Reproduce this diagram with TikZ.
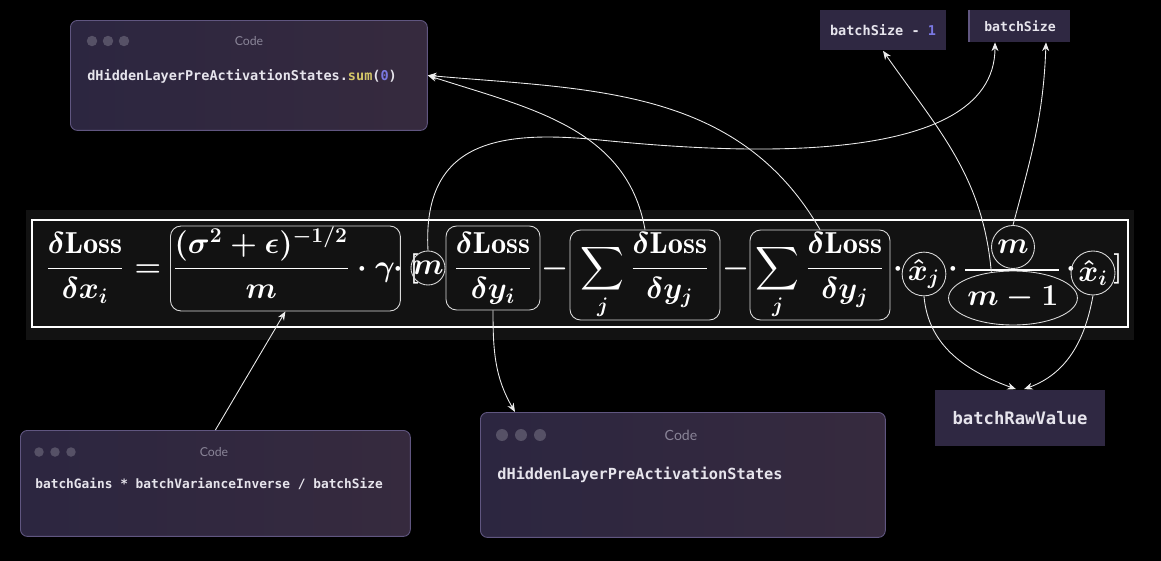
\documentclass[tikz,border=0pt]{standalone}
\usepackage{amsmath,amssymb}
\usepackage{xcolor}
\usepackage{fontspec}
\setmonofont{DejaVu Sans Mono}
\newfontfamily\uifont{Lato}
\usetikzlibrary{arrows.meta,positioning,shapes.geometric}
\definecolor{winA}{RGB}{44,38,64}
\definecolor{winB}{RGB}{54,42,62}
\definecolor{winedge}{RGB}{96,86,128}
\definecolor{varfill}{RGB}{47,40,66}
\definecolor{dotgray}{RGB}{86,81,102}
\definecolor{labelgray}{RGB}{138,133,152}
\definecolor{codewhite}{RGB}{230,228,236}
\definecolor{codeyellow}{RGB}{212,198,104}
\definecolor{codeblue}{RGB}{122,120,226}
\definecolor{eqback}{RGB}{18,18,18}
\tikzset{
  codewin/.style={draw=winedge, left color=winA, right color=winB, rounded corners=4pt, line width=0.5pt, anchor=north west},
  winlabel/.style={font=\uifont\fontsize{7}{8}\selectfont, text=labelgray, inner sep=0pt},
  codetext/.style={text=codewhite, anchor=west, inner sep=0pt},
  varbox/.style={fill=varfill, text=codewhite, inner sep=0pt},
  eqpart/.style={text=white, font=\LARGE\boldmath, inner sep=0pt, anchor=base},
  termbox/.style={eqpart, draw=white!85!black, rounded corners=6pt, line width=0.5pt},
  termring/.style={eqpart, draw=white!85!black, circle, line width=0.5pt, anchor=center},
  flow/.style={-{Stealth[length=5pt,width=4pt]}, white!92!black, line width=0.5pt}
}

\begin{document}
\begin{tikzpicture}[x=0.02cm, y=-0.02cm]
  % background and equation panel
  \fill[black] (0,0) rectangle (1161,561);
  \fill[eqback] (26,210) rectangle (1134,340);
  \draw[white, line width=1.2pt] (32,220) rectangle (1128,327);

  % equation terms
  \node[eqpart] (lhs) at (85,276) {$\dfrac{\delta\mathrm{Loss}}{\delta x_i}$};
  \node[eqpart] (eqsign) at (148,276) {$=$};
  \node[termbox, anchor=base west, text width=4.52cm, align=left, inner xsep=0.04cm, text height=1cm, text depth=0.7cm] (box1) at (170,276) {$\dfrac{(\sigma^2+\epsilon)^{-1/2}}{m}\cdot\gamma$};
  \node[eqpart] (dotA) at (398,276) {$\cdot$};
  \node[eqpart] (lbrack) at (414,276) {$[$};
  \node[termring, minimum size=0.68cm] (mcirc) at (428,268) {$m$};
  \node[termbox, minimum width=1.88cm, text height=1cm, text depth=0.68cm] (box2) at (493,276) {$\dfrac{\delta\mathrm{Loss}}{\delta y_i}$};
  \node[eqpart] (minusA) at (555,276) {$-$};
  \node[termbox, minimum width=3cm, text height=0.92cm, text depth=0.88cm] (box3) at (645,276) {$\displaystyle\sum_j\dfrac{\delta\mathrm{Loss}}{\delta y_j}$};
  \node[eqpart] (minusB) at (736,276) {$-$};
  \node[termbox, minimum width=2.8cm, text height=0.92cm, text depth=0.88cm] (box4) at (820,276) {$\displaystyle\sum_j\dfrac{\delta\mathrm{Loss}}{\delta y_j}$};
  \node[eqpart] (dotB) at (898,276) {$\cdot$};
  \node[termring, minimum size=0.84cm] (xj) at (924,274) {$\hat{x}_j$};
  \node[eqpart] (dotC) at (953,276) {$\cdot$};
  \node[termring, minimum size=0.86cm] (mnum) at (1013,247) {$m$};
  \draw[white, line width=0.8pt] (965,270) -- (1059,270);
  \node[termring, shape=ellipse, minimum width=1.96cm, minimum height=1.08cm] (mden) at (1013,298) {$m-1$};
  \node[eqpart] (dotD) at (1071,276) {$\cdot$};
  \node[termring, minimum size=0.88cm] (xi) at (1093,273) {$\hat{x}_i$};
  \node[eqpart] (rbrack) at (1118,276) {$]$};

  % code windows
  \node[codewin, minimum width=7.14cm, minimum height=2.2cm] (codeTop) at (70,20) {};
  \foreach \dx in {0,16,32} \fill[dotgray] (92+\dx,41) circle (0.105cm);
  \node[winlabel] (topLabel) at (249,41) {Code};
  \node[codetext, font=\ttfamily\bfseries\fontsize{7.7}{9}\selectfont] (topCode) at (87,76) {dHiddenLayerPreActivationStates.\textcolor{codeyellow}{sum}(\textcolor{codeblue}{0})};

  \node[codewin, minimum width=7.8cm, minimum height=2.12cm] (codeLeft) at (20,430) {};
  \foreach \dx in {0,16,32} \fill[dotgray] (39+\dx,452) circle (0.095cm);
  \node[winlabel] (leftLabel) at (214,452) {Code};
  \node[codetext, font=\ttfamily\bfseries\fontsize{7.3}{9}\selectfont] (leftCode) at (35,484) {batchGains * batchVarianceInverse / batchSize};

  \node[codewin, minimum width=8.1cm, minimum height=2.5cm] (codeMid) at (480,412) {};
  \foreach \dx in {0,19,38} \fill[dotgray] (502+\dx,435) circle (0.12cm);
  \node[winlabel, font=\uifont\fontsize{8}{9}\selectfont] (midLabel) at (681,435) {Code};
  \node[codetext, font=\ttfamily\bfseries\fontsize{8.7}{10}\selectfont] (midCode) at (497,475) {dHiddenLayerPreActivationStates};

  % variable boxes
  \node[varbox, minimum width=2.54cm, minimum height=0.82cm, font=\ttfamily\bfseries\fontsize{7.7}{9}\selectfont] (bsMinus) at (883,30) {batchSize - \textcolor{codeblue}{1}};
  \node[varbox, minimum width=2.02cm, minimum height=0.64cm, font=\ttfamily\bfseries\fontsize{7.5}{9}\selectfont] (bs) at (1020,26) {batchSize};
  \draw[winedge, line width=1pt] (bs.north west) -- (bs.south west);
  \node[varbox, minimum width=3.4cm, minimum height=1.14cm, font=\ttfamily\bfseries\fontsize{9.8}{11}\selectfont] (rawv) at (1020,418) {batchRawValue};

  % connectors
  \draw[flow] (codeLeft.north) -- (box1.south);
  \draw[flow] (box2.south) to[out=-90, in=120] ([xshift=0.7cm]codeMid.north west);
  \draw[flow] (box3.north) to[out=100, in=-18] (codeTop.east);
  \draw[flow] (box4.north) to[out=120, in=-5] (codeTop.east);
  \draw[flow] (mcirc.north) .. controls (422,140) and (500,130) .. (600,140) .. controls (720,152) and (995,172) .. ([xshift=-0.5cm]bs.south);
  \draw[flow] (mden.130) to[out=95, in=-55] (bsMinus.south);
  \draw[flow] (mnum.north) to[out=75, in=-92] ([xshift=0.52cm]bs.south);
  \draw[flow] (xj.south) to[out=-85, in=160] ([xshift=-0.08cm]rawv.north);
  \draw[flow] (xi.south) to[out=-100, in=20] ([xshift=0.08cm]rawv.north);
\end{tikzpicture}
\end{document}
